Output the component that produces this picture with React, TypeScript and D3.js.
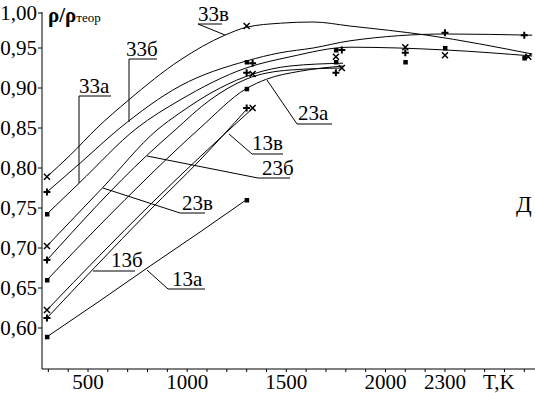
import React from 'react';
import * as d3 from 'd3';

// axis ticks
const yTicks = [0.6, 0.65, 0.7, 0.75, 0.8, 0.85, 0.9, 0.95, 1.0];
const yTickLabels = ['0,60', '0,65', '0,70', '0,75', '0,80', '0,85', '0,90', '0,95', '1,00'];
const xTicks = [500, 1000, 1500, 2000, 2300];
const xTickLabels = ['500', '1000', '1500', '2000', '2300'];

// measured points  [T, rho/rho_theor]
const pts13a = [[293, 0.589], [1300, 0.76]];
const pts13b = [[293, 0.6125], [1300, 0.875]];
const pts13v = [[293, 0.6225], [1330, 0.875]];
const pts23a = [[293, 0.66], [1300, 0.899], [1750, 0.9325]];
const pts23b = [[293, 0.685], [1300, 0.919], [1750, 0.919]];
const pts23v = [[293, 0.7025], [1330, 0.9175], [1780, 0.925]];
const pts33a = [[293, 0.7425], [1300, 0.9325], [1750, 0.9475], [2100, 0.9325], [2300, 0.95], [2700, 0.9375]];
const pts33b = [[293, 0.77], [1330, 0.931], [1780, 0.9475], [2100, 0.944], [2300, 0.969], [2700, 0.966]];
const pts33v = [[293, 0.789], [1300, 0.9775], [1750, 0.939], [2100, 0.951], [2300, 0.941], [2720, 0.939]];

// fitted curves
const fit13a = [[293, 0.589], [560, 0.634], [813, 0.6775], [1065, 0.72], [1297, 0.76]];
const fit13b = [[293, 0.6125], [535, 0.676], [813, 0.7475], [1065, 0.81], [1297, 0.8725]];
const fit13v = [[293, 0.6225], [560, 0.691], [813, 0.754], [1065, 0.814], [1332, 0.875]];
const fit23a = [[293, 0.66], [560, 0.7288], [813, 0.7913], [1065, 0.85], [1297, 0.899], [1400, 0.911], [1570, 0.921], [1786, 0.9275]];
const fit23b = [[293, 0.685], [798, 0.816], [939, 0.8475], [1115, 0.885], [1297, 0.911], [1519, 0.9225], [1786, 0.925]];
const fit23v = [[293, 0.7025], [576, 0.776], [848, 0.8475], [964, 0.869], [1166, 0.9], [1332, 0.9175], [1519, 0.9275], [1786, 0.931]];
const fit33a = [[293, 0.7425], [455, 0.781], [747, 0.85], [964, 0.885], [1297, 0.925], [1519, 0.939], [1821, 0.951], [2305, 0.9475], [2740, 0.94]];
const fit33b = [[293, 0.77], [460, 0.806], [661, 0.85], [964, 0.9025], [1302, 0.934], [1468, 0.944], [1635, 0.95], [1821, 0.959], [2310, 0.9675], [2740, 0.966]];
const fit33v = [[293, 0.789], [410, 0.816], [545, 0.85], [705, 0.885], [965, 0.935], [1190, 0.966], [1300, 0.976], [1470, 0.981], [1635, 0.9825], [1820, 0.9775], [2210, 0.966], [2740, 0.9425]];

const series = [
  { name: '13а', pts: pts13a, fit: fit13a, mark: 'sq' },
  { name: '13б', pts: pts13b, fit: fit13b, mark: 'plus' },
  { name: '13в', pts: pts13v, fit: fit13v, mark: 'cross' },
  { name: '23а', pts: pts23a, fit: fit23a, mark: 'sq' },
  { name: '23б', pts: pts23b, fit: fit23b, mark: 'plus' },
  { name: '23в', pts: pts23v, fit: fit23v, mark: 'cross' },
  { name: '33а', pts: pts33a, fit: fit33a, mark: 'sq' },
  { name: '33б', pts: pts33b, fit: fit33b, mark: 'plus' },
  { name: '33в', pts: pts33v, fit: fit33v, mark: 'cross' },
];

// label callouts: text position, underline, leader end (pixels)
const callouts = [
  { text: '33в', x: 198, y: 21, u: [198, 222], uy: 24, lead: [225, 35] },
  { text: '33б', x: 126, y: 56, u: [129, 157], uy: 59, lead: [129, 122] },
  { text: '33а', x: 79, y: 93, u: [79, 111], uy: 96, lead: [79, 183] },
  { text: '23а', x: 298, y: 120, u: [297, 332], uy: 124, lead: [267, 80] },
  { text: '13в', x: 252, y: 150, u: [252, 283], uy: 154, lead: [229, 134] },
  { text: '23б', x: 262, y: 175, u: [258, 290], uy: 178, lead: [147, 156] },
  { text: '23в', x: 182, y: 210, u: [180, 205], uy: 213, lead: [103, 188] },
  { text: '13б', x: 111, y: 267, u: [93, 135], uy: 271, lead: [93, 271] },
  { text: '13а', x: 172, y: 286, u: [168, 205], uy: 289, lead: [147, 270] },
];

const W = 535;
const H = 393;
const FONT = 'Liberation Serif, serif';

const Marker = ({ kind, x, y }: { kind: string; x: number; y: number }) => {
  if (kind === 'sq') return <rect x={x - 2} y={y - 2} width={4.5} height={4.5} fill="#000" />;
  if (kind === 'plus')
    return <path d={`M${x - 3.5},${y}H${x + 3.5}M${x},${y - 3.5}V${y + 3.5}`} stroke="#000" strokeWidth={2} />;
  return <path d={`M${x - 3},${y - 3}L${x + 3},${y + 3}M${x + 3},${y - 3}L${x - 3},${y + 3}`} stroke="#000" strokeWidth={1.5} />;
};

export default function App() {
  const x = d3.scaleLinear().domain([268, 2754]).range([42, 535]);
  const y = d3.scaleLinear().domain([0.54875, 0.995]).range([369, 12]);

  const line = d3
    .line<number[]>()
    .x(d => x(d[0]))
    .y(d => y(d[1]))
    .curve(d3.curveMonotoneX);

  const minor = d3.range(300, 2800, 100);

  return (
    <svg
      width={W}
      height={H}
      style={{ position: 'absolute', left: 0, top: 0, background: '#fff' }}
    >
      <g fontFamily={FONT}>
        {/* axes */}
        <line x1={42} x2={42} y1={12} y2={369} stroke="#000" />
        <line x1={42} x2={535} y1={369} y2={369} stroke="#000" />
        {yTicks.map((t, i) => {
          const yy = Math.max(y(t), 13);
          return (
            <g key={t}>
              <line x1={38} x2={42} y1={yy} y2={yy} stroke="#000" />
              <text x={37} y={yy + 7} textAnchor="end" fontSize={21}>
                {yTickLabels[i]}
              </text>
            </g>
          );
        })}
        {minor.map(t => (
          <line key={t} x1={x(t)} x2={x(t)} y1={369} y2={372} stroke="#000" />
        ))}
        {xTicks.map((t, i) => (
          <text key={t} x={x(t)} y={389} textAnchor="middle" fontSize={21}>
            {xTickLabels[i]}
          </text>
        ))}
        <text x={483} y={389} fontSize={21}>
          T,K
        </text>

        {/* y title */}
        <text x={48} y={22} fontSize={21} fontWeight="bold">
          ρ/ρ
          <tspan fontSize={13} fontWeight="normal">теор</tspan>
        </text>

        {/* curves */}
        {series.map(s => (
          <path key={s.name} d={line(s.fit) || ''} fill="none" stroke="#000" strokeWidth={1} />
        ))}
        {series.map(s =>
          s.pts.map((p, i) => <Marker key={s.name + i} kind={s.mark} x={x(p[0])} y={y(p[1])} />)
        )}

        {/* callouts */}
        {callouts.map(c => (
          <g key={c.text}>
            <text x={c.x} y={c.y} fontSize={21}>
              {c.text}
            </text>
            <line x1={c.u[0]} x2={c.u[1]} y1={c.uy} y2={c.uy} stroke="#000" />
            <line x1={c.u[0]} y1={c.uy} x2={c.lead[0]} y2={c.lead[1]} stroke="#000" />
          </g>
        ))}

        <text x={516} y={212} fontSize={23}>
          Д
        </text>
      </g>
    </svg>
  );
}
